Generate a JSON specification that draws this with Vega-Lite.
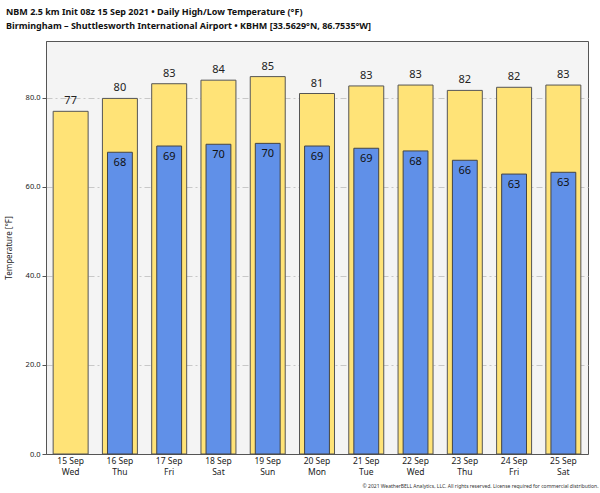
{
  "$schema": "https://vega.github.io/schema/vega-lite/v6.json",
  "width": 542,
  "height": 413,
  "autosize": {"type": "none"},
  "padding": {"left": 46, "top": 41, "right": 12, "bottom": 39},
  "background": "white",
  "config": {
    "font": "Noto Sans",
    "view": {"fill": "#f4f4f4", "stroke": "#555555", "strokeWidth": 1}
  },
  "title": {
    "text": ["NBM 2.5 km Init 08z 15 Sep 2021 • Daily High/Low Temperature (°F)", "Birmingham – Shuttlesworth International Airport • KBHM [33.5629°N, 86.7535°W]"],
    "anchor": "start",
    "frame": "group",
    "dx": -40,
    "offset": 10,
    "fontSize": 9,
    "fontWeight": "bold",
    "lineHeight": 14,
    "color": "#111111",
    "font": "Noto Sans"
  },
  "data": {
    "values": [
      {"label": "15 Sep Wed", "high": 77.0, "low": null},
      {"label": "16 Sep Thu", "high": 79.9, "low": 67.8},
      {"label": "17 Sep Fri", "high": 83.2, "low": 69.2},
      {"label": "18 Sep Sat", "high": 84.0, "low": 69.6},
      {"label": "19 Sep Sun", "high": 84.8, "low": 69.8},
      {"label": "20 Sep Mon", "high": 81.0, "low": 69.2},
      {"label": "21 Sep Tue", "high": 82.7, "low": 68.7},
      {"label": "22 Sep Wed", "high": 82.9, "low": 68.1},
      {"label": "23 Sep Thu", "high": 81.7, "low": 66.0},
      {"label": "24 Sep Fri", "high": 82.4, "low": 62.9},
      {"label": "25 Sep Sat", "high": 82.9, "low": 63.3}
    ]
  },
  "encoding": {
    "x": {
      "field": "label",
      "type": "nominal",
      "sort": null,
      "scale": {"paddingInner": 0.29, "paddingOuter": 0.145},
      "axis": {
        "title": "© 2021 WeatherBELL Analytics, LLC. All rights reserved. License required for commercial distribution.",
        "titleFontSize": 5,
        "titleFontWeight": "normal",
        "titleColor": "#333333",
        "titleAnchor": "end",
        "titleAlign": "right",
        "titlePadding": 8,
        "titleX": 552,
        "labelAngle": 0,
        "labelExpr": "[split(datum.label, ' ')[0] + ' ' + split(datum.label, ' ')[1], split(datum.label, ' ')[2]]",
        "labelFontSize": 8.5,
        "labelColor": "#222222",
        "labelLineHeight": 11,
        "labelPadding": 2,
        "ticks": false,
        "domainColor": "#555555"
      }
    }
  },
  "layer": [
    {
      "mark": {"type": "bar", "color": "#ffe377", "stroke": "#555555", "strokeWidth": 1},
      "encoding": {
        "y": {
          "field": "high",
          "type": "quantitative",
          "scale": {"domain": [0, 92.8], "nice": false},
          "axis": {
            "title": "Temperature [°F]",
            "titleFontSize": 8,
            "titleFontWeight": "normal",
            "titleColor": "#222222",
            "titlePadding": 12,
            "values": [0, 20, 40, 60, 80],
            "format": ".1f",
            "labelFontSize": 7.5,
            "labelColor": "#222222",
            "tickColor": "#555555",
            "tickSize": 4,
            "domainColor": "#555555",
            "grid": true,
            "gridColor": "#c8c8c8",
            "gridDash": [6, 3, 2, 3]
          }
        }
      }
    },
    {
      "mark": {"type": "bar", "color": "#6090e8", "stroke": "#444444", "strokeWidth": 1, "width": {"band": 0.71}},
      "encoding": {"y": {"field": "low", "type": "quantitative"}}
    },
    {
      "mark": {"type": "text", "baseline": "bottom", "dy": -5, "fontSize": 11, "color": "#222222"},
      "encoding": {
        "y": {"field": "high", "type": "quantitative"},
        "text": {"field": "high", "type": "quantitative", "format": ".0f"}
      }
    },
    {
      "mark": {"type": "text", "baseline": "top", "dy": 5, "fontSize": 11, "color": "#111111"},
      "encoding": {
        "y": {"field": "low", "type": "quantitative"},
        "text": {"field": "low", "type": "quantitative", "format": ".0f"}
      }
    }
  ]
}
